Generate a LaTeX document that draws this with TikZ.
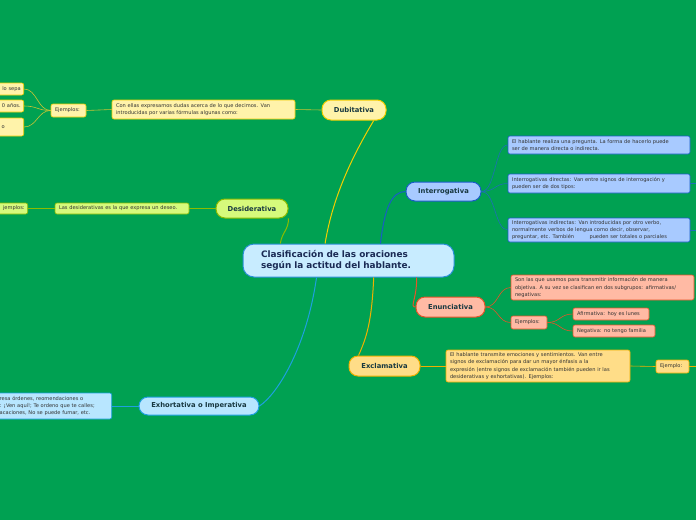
\documentclass[tikz,border=0pt]{standalone}
\usepackage{fontspec}
\setmainfont{DejaVu Sans}

\definecolor{bgcol}{RGB}{0,161,82}
\definecolor{maintext}{RGB}{26,42,84}
\definecolor{topictext}{RGB}{24,56,64}
\definecolor{notetext}{RGB}{50,50,50}
\definecolor{mainfill}{RGB}{200,236,255}
\definecolor{mainline}{RGB}{42,143,216}
\definecolor{dubfill}{RGB}{255,243,170}
\definecolor{dubline}{RGB}{243,206,0}
\definecolor{dubtwig}{RGB}{200,196,52}
\definecolor{desfill}{RGB}{214,250,124}
\definecolor{desline}{RGB}{140,188,0}
\definecolor{exhfill}{RGB}{184,230,255}
\definecolor{exhline}{RGB}{30,160,224}
\definecolor{intfill}{RGB}{168,202,255}
\definecolor{intline}{RGB}{26,92,200}
\definecolor{inttwig}{RGB}{30,110,184}
\definecolor{enufill}{RGB}{255,186,164}
\definecolor{enuline}{RGB}{230,84,42}
\definecolor{excfill}{RGB}{255,221,136}
\definecolor{excline}{RGB}{240,176,0}

\begin{document}
\begin{tikzpicture}[x=1pt, y=-1pt,
    topic/.style={draw, rounded corners=9pt, line width=1pt, inner sep=0pt,
      font=\fontsize{6.8}{8}\selectfont\bfseries, text=topictext},
    note/.style={draw, rounded corners=2pt, line width=0.6pt, inner xsep=4pt, inner ysep=0pt,
      font=\fontsize{5.1}{7.2}\selectfont, text=notetext, align=left},
    link/.style={line width=1pt},
    twig/.style={line width=0.6pt}]

    % Background and frame
    \fill[bgcol] (0,0) rectangle (696,520);
    \useasboundingbox (0,0) rectangle (696,520);
    \clip (0,0) rectangle (696,520);

    % Central topic
    \node[topic, rounded corners=11pt, fill=mainfill, draw=mainline, text=maintext,
      font=\fontsize{8.9}{11}\selectfont\bfseries, text width=175pt, align=left,
      inner xsep=18pt, minimum height=33pt] (main) at (348.5,260.5)
      {Clasificación de las oraciones\\según la actitud del hablante.};

    % Dubitativa
    \node[topic, fill=dubfill, draw=dubline, minimum width=64pt, minimum height=20pt] (dub) at (354,110) {Dubitativa};
    \node[note, fill=dubfill, draw=dubline, text width=175pt, minimum height=19pt] (dubtxt) at (203.5,109.5)
      {Con ellas expresamos dudas acerca de lo que decimos. Van\\introducidas por varias fórmulas algunas como:};
    \node[note, fill=dubfill, draw=dubline, text width=27pt, minimum height=13pt] (dubej) at (68.5,110.5) {Ejemplos:};
    \node[note, fill=dubfill, draw=dubline, text width=40pt, align=right, inner xsep=3pt, minimum height=12pt, anchor=east] (dubA) at (24,89) {lo sepa};
    \node[note, fill=dubfill, draw=dubline, text width=40pt, align=right, inner xsep=3pt, minimum height=12pt, anchor=east] (dubB) at (24,106) {0 años.};
    \node[note, fill=dubfill, draw=dubline, text width=18pt, minimum height=18pt, anchor=east] (dubC) at (24,127) {o};

    % Desiderativa
    \node[topic, fill=desfill, draw=desline, minimum width=72pt, minimum height=19pt] (des) at (252,208.5) {Desiderativa};
    \node[note, fill=desfill, draw=desline, text width=126pt, minimum height=11pt] (destxt) at (122,208.5)
      {Las desiderativas es la que expresa un deseo.};
    \node[note, fill=desfill, draw=desline, text width=40pt, align=right, inner xsep=3pt, minimum height=11pt, anchor=east] (desej) at (28,208.5) {jemplos:};

    % Exhortativa o imperativa
    \node[topic, fill=exhfill, draw=exhline, minimum width=120pt, minimum height=18pt] (exh) at (199,406) {Exhortativa o Imperativa};
    \node[note, fill=exhfill, draw=exhline, text width=108pt, minimum height=26pt, anchor=east] (exhtxt) at (112,406)
      {resa órdenes, reomendaciones o\\: ¡Ven aquí!; Te ordeno que te calles;\\acaciones, No se puede fumar, etc.};

    % Interrogativa
    \node[topic, fill=intfill, draw=intline, minimum width=75pt, minimum height=19pt] (int) at (443.5,191.5) {Interrogativa};
    \node[note, fill=intfill, draw=intline, text width=174pt, minimum height=18pt] (intA) at (599,145)
      {El hablante realiza una pregunta. La forma de hacerlo puede\\ser de manera directa o indirecta.};
    \node[note, fill=intfill, draw=intline, text width=174pt, minimum height=19pt] (intB) at (599,183.5)
      {Interrogativas directas: Van entre signos de interrogación y\\pueden ser de dos tipos:};
    \node[note, fill=intfill, draw=intline, text width=174pt, minimum height=24pt] (intC) at (599,230)
      {Interrogativas indirectas: Van introducidas por otro verbo,\\normalmente verbos de lengua como decir, observar,\\preguntar, etc. También \hspace{12pt} pueden ser totales o parciales};
    \coordinate (intBout) at (700,183.5);
    \coordinate (intCout) at (700,230);

    % Enunciativa
    \node[topic, fill=enufill, draw=enuline, minimum width=69pt, minimum height=20pt] (enu) at (450.5,307) {Enunciativa};
    \node[note, fill=enufill, draw=enuline, text width=175pt, minimum height=25pt] (enuA) at (602.5,287.5)
      {Son las que usamos para transmitir información de manera\\objetiva. A su vez se clasifican en dos subgrupos: afirmativas/\\negativas:};
    \node[note, fill=enufill, draw=enuline, text width=28pt, minimum height=13pt] (enuej) at (529,322.5) {Ejemplos:};
    \node[note, fill=enufill, draw=enuline, text width=68pt, minimum height=12pt] (enuAf) at (611,314) {Afirmativa: hoy es lunes};
    \node[note, fill=enufill, draw=enuline, text width=74pt, minimum height=12pt] (enuNe) at (614,331) {Negativa: no tengo familia};

    % Exclamativa
    \node[topic, fill=excfill, draw=excline, minimum width=71pt, minimum height=20pt] (exc) at (384.5,366) {Exclamativa};
    \node[note, fill=excfill, draw=excline, text width=176pt, minimum height=32pt] (excA) at (538,366)
      {El hablante transmite emociones y sentimientos. Van entre\\signos de exclamación para dar un mayor énfasis a la\\expresión (entre signos de exclamación también pueden ir las\\desiderativas y exhortativas). Ejemplos:};
    \node[note, fill=excfill, draw=excline, text width=25pt, minimum height=13pt] (excej) at (672.5,366.5) {Ejemplo:};
    \coordinate (excout) at (700,366.5);

    % Main branches
    \draw[link, dubline] (main.144) .. controls +(8,-50) and +(-18,30) .. (dub.-28);
    \draw[link, desline] (main.166) .. controls +(2,-12) and +(0,12) .. (des.-15);
    \draw[link, exhline] (main.208) .. controls +(-10,70) and +(18,-12) .. (exh.east);
    \draw[link, intline] (main.28) .. controls +(4,-35) and +(-14,0) .. (int.west);
    \draw[link, enuline] (main.-14) .. controls +(0,22) and +(-6,0) .. (enu.west);
    \draw[link, excline] (main.-34) .. controls +(-2,45) and +(8,-18) .. (exc.158);

    % Twigs
    \draw[twig, dubtwig] (dub.west) -- (dubtxt.east);
    \draw[twig, dubtwig] (dubtxt.west) -- (dubej.east);
    \foreach \leaf in {dubA,dubB,dubC}
      \draw[twig, dubtwig] (dubej.west) .. controls +(-13,0) and +(13,0) .. (\leaf.east);
    \draw[twig, desline] (des.west) -- (destxt.east);
    \draw[twig, desline] (destxt.west) -- (desej.east);
    \draw[twig, exhline] (exh.west) -- (exhtxt.east);
    \foreach \leaf in {intA,intB,intC}
      \draw[twig, inttwig] (int.east) .. controls +(14,0) and +(-13,0) .. (\leaf.west);
    \draw[twig, inttwig] (intB.east) -- (intBout);
    \draw[twig, inttwig] (intC.east) -- (intCout);
    \foreach \leaf in {enuA,enuej}
      \draw[twig, enuline] (enu.east) .. controls +(13,0) and +(-13,0) .. (\leaf.west);
    \foreach \leaf in {enuAf,enuNe}
      \draw[twig, enuline] (enuej.east) .. controls +(13,0) and +(-13,0) .. (\leaf.west);
    \draw[twig, excline] (exc.east) -- (excA.west);
    \draw[twig, excline] (excA.east) -- (excej.west);
    \draw[twig, excline] (excej.east) -- (excout);

\end{tikzpicture}
\end{document}
